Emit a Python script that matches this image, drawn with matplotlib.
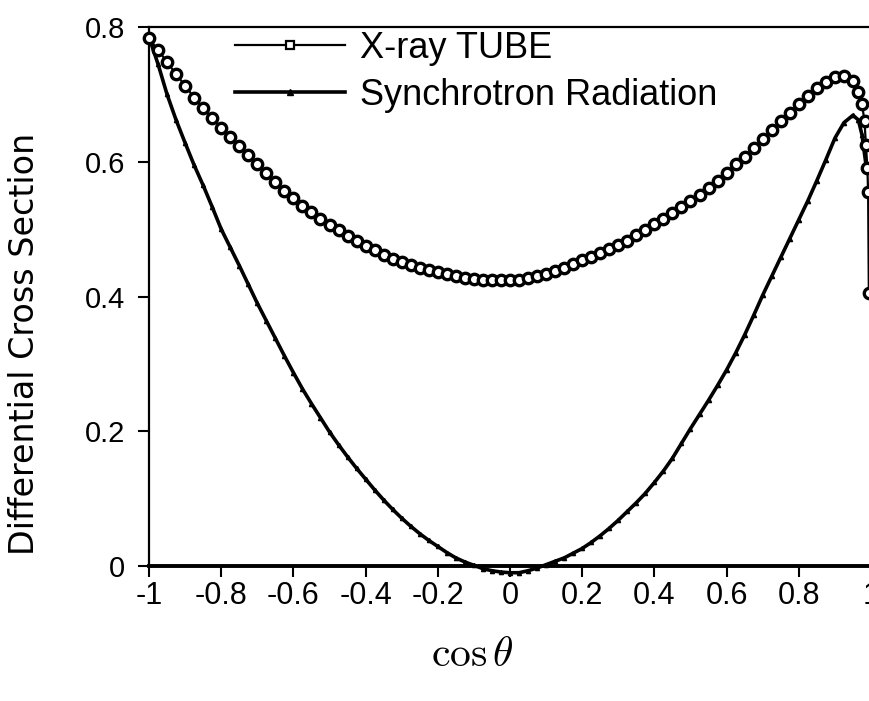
import matplotlib
matplotlib.use("Agg")
import matplotlib.pyplot as plt
from matplotlib.lines import Line2D

plt.rcParams['font.family'] = ['Liberation Sans', 'DejaVu Sans']
plt.rcParams['axes.unicode_minus'] = False
plt.rcParams['mathtext.fontset'] = 'cm'

# ---------------- data ----------------
xray_x = [-1.000, -0.975, -0.950, -0.925, -0.900, -0.875, -0.850, -0.825, -0.800, -0.775,
          -0.750, -0.725, -0.700, -0.675, -0.650, -0.625, -0.600, -0.575, -0.550, -0.525,
          -0.500, -0.475, -0.450, -0.425, -0.400, -0.375, -0.350, -0.325, -0.300, -0.275,
          -0.250, -0.225, -0.200, -0.175, -0.150, -0.125, -0.100, -0.075, -0.050, -0.025,
          0.000, 0.025, 0.050, 0.075, 0.100, 0.125, 0.150, 0.175, 0.200, 0.225,
          0.250, 0.275, 0.300, 0.325, 0.350, 0.375, 0.400, 0.425, 0.450, 0.475,
          0.500, 0.525, 0.550, 0.575, 0.600, 0.625, 0.650, 0.675, 0.700, 0.725,
          0.750, 0.775, 0.800, 0.825, 0.850, 0.875, 0.900, 0.925, 0.950, 0.965,
          0.975, 0.982, 0.986, 0.990, 0.992, 0.994]
xray_y = [0.783, 0.766, 0.748, 0.730, 0.713, 0.695, 0.680, 0.665, 0.650, 0.636,
          0.623, 0.610, 0.597, 0.584, 0.570, 0.557, 0.546, 0.535, 0.525, 0.515,
          0.506, 0.498, 0.490, 0.482, 0.475, 0.469, 0.462, 0.456, 0.451, 0.447,
          0.443, 0.440, 0.437, 0.433, 0.430, 0.428, 0.426, 0.425, 0.425, 0.425,
          0.425, 0.425, 0.427, 0.430, 0.434, 0.438, 0.443, 0.448, 0.454, 0.459,
          0.464, 0.470, 0.476, 0.483, 0.491, 0.499, 0.507, 0.515, 0.524, 0.533,
          0.542, 0.551, 0.561, 0.572, 0.584, 0.596, 0.607, 0.620, 0.634, 0.647,
          0.660, 0.673, 0.686, 0.698, 0.709, 0.719, 0.726, 0.728, 0.720, 0.703,
          0.686, 0.660, 0.625, 0.590, 0.555, 0.405]

sync_x = [-1.000, -0.975, -0.950, -0.925, -0.900, -0.875, -0.850, -0.825, -0.800, -0.775,
          -0.750, -0.725, -0.700, -0.675, -0.650, -0.625, -0.600, -0.575, -0.550, -0.525,
          -0.500, -0.475, -0.450, -0.425, -0.400, -0.375, -0.350, -0.325, -0.300, -0.275,
          -0.250, -0.225, -0.200, -0.175, -0.150, -0.125, -0.100, -0.075, -0.050, -0.025,
          0.000, 0.025, 0.050, 0.075, 0.100, 0.125, 0.150, 0.175, 0.200, 0.225,
          0.250, 0.275, 0.300, 0.325, 0.350, 0.375, 0.400, 0.425, 0.450, 0.475,
          0.500, 0.525, 0.550, 0.575, 0.600, 0.625, 0.650, 0.675, 0.700, 0.725,
          0.750, 0.775, 0.800, 0.825, 0.850, 0.875, 0.900, 0.925, 0.950, 0.965,
          0.975, 0.985]
sync_y = [0.785, 0.745, 0.700, 0.662, 0.628, 0.595, 0.565, 0.533, 0.500, 0.473,
          0.446, 0.418, 0.390, 0.364, 0.338, 0.312, 0.287, 0.263, 0.241, 0.220,
          0.199, 0.180, 0.162, 0.145, 0.129, 0.113, 0.098, 0.084, 0.071, 0.059,
          0.048, 0.038, 0.029, 0.020, 0.012, 0.006, 0.001, -0.004, -0.007, -0.009,
          -0.010, -0.010, -0.007, -0.003, 0.002, 0.007, 0.012, 0.019, 0.026, 0.035,
          0.045, 0.056, 0.068, 0.081, 0.094, 0.108, 0.124, 0.141, 0.160, 0.182,
          0.204, 0.225, 0.246, 0.268, 0.291, 0.316, 0.343, 0.372, 0.402, 0.430,
          0.458, 0.486, 0.514, 0.542, 0.572, 0.603, 0.635, 0.658, 0.669, 0.662,
          0.640, 0.600]

xticks = [-1, -0.8, -0.6, -0.4, -0.2, 0, 0.2, 0.4, 0.6, 0.8, 1]
xtick_labels = ['-1', '-0.8', '-0.6', '-0.4', '-0.2', '0', '0.2', '0.4', '0.6', '0.8', '1']
yticks = [0, 0.2, 0.4, 0.6, 0.8]
ytick_labels = ['0', '0.2', '0.4', '0.6', '0.8']
series_names = ['X-ray TUBE', 'Synchrotron Radiation']

# ---------------- figure ----------------
W, H = 869, 701
fig = plt.figure(figsize=(W / 100, H / 100), dpi=100)
ax = fig.add_axes([149 / W, 135 / H, (871 - 149) / W, (566 - 27) / H])

ax.plot(sync_x, sync_y, color='black', lw=2.6, marker='^', ms=3,
        clip_on=False, zorder=3)
ax.plot(xray_x, xray_y, color='black', lw=1.6, marker='o', ms=7.5,
        mfc='white', mec='black', mew=2.4, clip_on=False, zorder=4)

ax.set_xlim(-1, 1)
ax.set_ylim(0, 0.8)

ax.spines['right'].set_visible(False)
ax.spines['left'].set_linewidth(1.6)
ax.spines['top'].set_linewidth(1.6)
ax.spines['bottom'].set_linewidth(2.8)

ax.set_xticks(xticks)
ax.set_xticklabels(xtick_labels, fontsize=22)
ax.set_yticks(yticks)
ax.set_yticklabels(ytick_labels, fontsize=21)
ax.tick_params(axis='x', direction='out', length=8, width=1.5, pad=3)
ax.tick_params(axis='y', direction='out', length=8, width=1.5, pad=9)

fig.text(25 / W, 1 - 344 / H, 'Differential Cross Section', fontsize=24,
         rotation=90, ha='center', va='center', family='DejaVu Sans')
fig.text(472 / W, 1 - 655 / H, r'$\cos\theta$', fontsize=30,
         ha='center', va='center')

handles = [
    Line2D([], [], color='black', lw=1.6, marker='s', ms=6, mfc='white',
           mec='black', mew=1.6),
    Line2D([], [], color='black', lw=2.6, marker='^', ms=4),
]
ax.legend(handles, series_names, loc='upper left',
          bbox_to_anchor=(235 / W, 1 - 31 / H), bbox_transform=fig.transFigure,
          frameon=False, fontsize=26, handlelength=3.05, handletextpad=0.42,
          borderpad=0, labelspacing=0.33, borderaxespad=0)

fig.savefig('out.png', dpi=100)
